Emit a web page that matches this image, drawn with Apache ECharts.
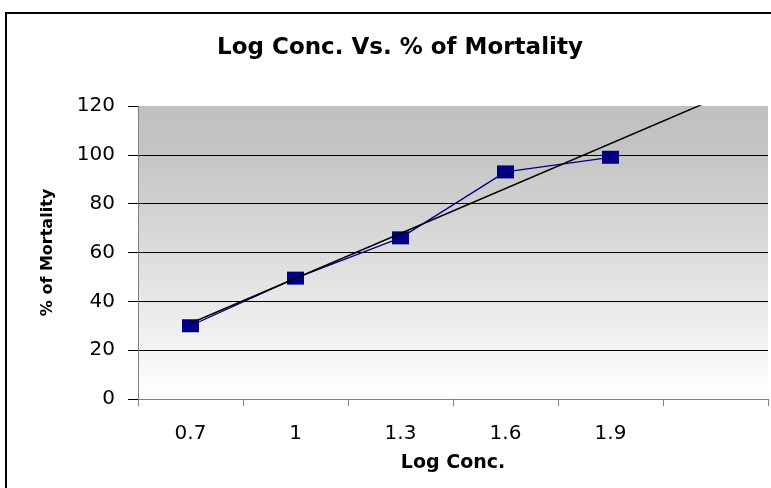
<!DOCTYPE html>
<html>
<head>
<meta charset="utf-8">
<script src="https://cdn.jsdelivr.net/npm/echarts@6/dist/echarts.min.js"></script>
<style>
  html, body { margin: 0; padding: 0; background: #fff; }
  #figure { width: 771px; height: 488px; }
</style>
</head>
<body>
<div id="figure"></div>
<script>
// category labels (last slot is empty, as in the original sheet)
var logConc = ['0.7', '1', '1.3', '1.6', '1.9', ''];
// % mortality
var mortality = [30, 49.5, 66, 93, 99, null];
// linear trendline ends (first point, one forecast step past last point)
var trend = [31, null, null, null, null, 123];
var yTicks = [0, 20, 40, 60, 80, 100, 120];

var figure = echarts.init(document.getElementById('figure'));
var option = {
    animation: false,
    backgroundColor: '#fff',
    title: {
        text: 'Log Conc. Vs. % of Mortality',
        left: 395,
        textAlign: 'center',
        top: 32,
        textStyle: {
            fontFamily: 'DejaVu Sans',
            fontWeight: 'bold',
            fontSize: 23,
            color: '#000'
        }
    },
    graphic: [{
        type: 'rect',
        shape: { x: 6, y: 13, width: 900, height: 600 },
        style: { fill: 'none', stroke: '#000', lineWidth: 2 },
        silent: true
    }],
    grid: {
        left: 138,
        top: 106,
        right: 3,
        bottom: 89,
        show: true,
        borderWidth: 0,
        backgroundColor: {
            type: 'linear', x: 0, y: 0, x2: 0, y2: 1,
            colorStops: [
                { offset: 0, color: '#c0c0c0' },
                { offset: 0.15, color: '#c4c4c4' },
                { offset: 1, color: '#ffffff' }
            ]
        }
    },
    xAxis: {
        type: 'category',
        data: logConc,
        boundaryGap: true,
        name: 'Log Conc.',
        nameLocation: 'middle',
        nameGap: 55,
        nameTextStyle: {
            fontFamily: 'DejaVu Sans',
            fontWeight: 'bold',
            fontSize: 19,
            color: '#000'
        },
        axisLine: { lineStyle: { color: '#808080', width: 1 } },
        axisTick: { show: true, length: 7, lineStyle: { color: '#808080' } },
        axisLabel: {
            margin: 25,
            fontFamily: 'DejaVu Sans',
            fontSize: 20,
            color: '#000'
        },
        splitLine: { show: false }
    },
    yAxis: {
        type: 'value',
        min: yTicks[0],
        max: yTicks[yTicks.length - 1],
        interval: 20,
        name: '% of Mortality',
        nameLocation: 'middle',
        nameGap: 82,
        nameTextStyle: {
            fontFamily: 'DejaVu Sans',
            fontWeight: 'bold',
            fontSize: 16,
            color: '#000'
        },
        axisLine: { show: true, lineStyle: { color: '#808080', width: 1 } },
        axisTick: { show: true, length: 10, lineStyle: { color: '#000' } },
        axisLabel: {
            margin: 23,
            fontFamily: 'DejaVu Sans',
            fontSize: 20,
            color: '#000'
        },
        splitLine: {
            show: true,
            lineStyle: {
                color: ['#000', '#000', '#000', '#000', '#000', '#000', 'rgba(0,0,0,0)'],
                width: 1
            }
        }
    },
    series: [{
        name: '% of Mortality',
        type: 'line',
        data: mortality,
        symbol: 'rect',
        symbolSize: [17, 13],
        itemStyle: { color: '#000080' },
        lineStyle: { color: '#000080', width: 1.3 },
        z: 3
    }, {
        name: 'Linear',
        type: 'line',
        data: trend,
        connectNulls: true,
        showSymbol: false,
        symbol: 'none',
        clip: true,
        lineStyle: { color: '#000', width: 1.5 },
        z: 4
    }]
};

figure.setOption(option);
</script>
</body>
</html>
